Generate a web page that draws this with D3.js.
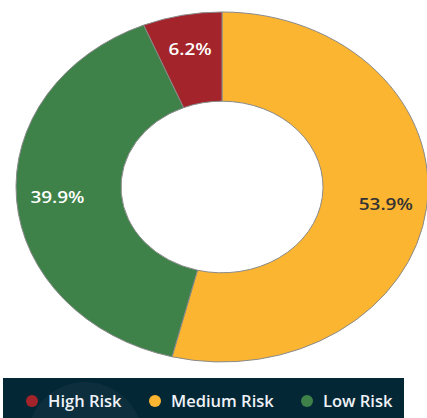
<!DOCTYPE html>
<html>
<head>
<meta charset="utf-8">
<script src="https://cdn.jsdelivr.net/npm/d3@7"></script>
<style>
  body { margin: 0; background: #fff; }
  text { font-family: "Open Sans", "Noto Sans", sans-serif; }
</style>
</head>
<body>
<div id="chart"></div>
<script>
var svgWidth = 427;
var svgHeight = 418;

// data, in drawing order (clockwise from 12 o'clock)
var categories = ["Medium Risk", "Low Risk", "High Risk"];
var shares = [53.9, 39.9, 6.2];
var labels = ["53.9%", "39.9%", "6.2%"];
var legendOrder = ["High Risk", "Medium Risk", "Low Risk"];

var colors = {
  "High Risk": "#a3242a",
  "Medium Risk": "#fcb531",
  "Low Risk": "#3e8249"
};
var labelColors = {
  "High Risk": "#ffffff",
  "Medium Risk": "#333333",
  "Low Risk": "#ffffff"
};

var cx = 222, cy = 187;
var outerR = 206, innerR = 101;
var squash = 175 / 206; // donut is drawn as an ellipse
var labelR = 165;

var svg = d3.select("#chart")
  .append("svg")
  .attr("width", svgWidth)
  .attr("height", svgHeight);

var data = categories.map(function(c, i) {
  return { name: c, value: shares[i], label: labels[i] };
});

var pie = d3.pie()
  .sort(null)
  .value(d => d.value);

var arc = d3.arc()
  .innerRadius(innerR)
  .outerRadius(outerR);

var labelArc = d3.arc()
  .innerRadius(labelR)
  .outerRadius(labelR);

var arcs = pie(data);

// slices
var donut = svg.append("g")
  .attr("transform", `translate(${cx}, ${cy}) scale(1, ${squash})`);

donut.selectAll("path")
  .data(arcs)
  .enter()
  .append("path")
  .attr("d", arc)
  .attr("fill", d => colors[d.data.name])
  .attr("stroke", "#8a8a8a")
  .attr("stroke-width", 1)
  .attr("vector-effect", "non-scaling-stroke");

// percentage labels
svg.append("g")
  .selectAll("text")
  .data(arcs)
  .enter()
  .append("text")
  .attr("transform", function(d) {
    var c = labelArc.centroid(d);
    return `translate(${cx + c[0]}, ${cy + c[1] * squash}) scale(1.15, 1)`;
  })
  .attr("text-anchor", "middle")
  .attr("dy", "0.36em")
  .attr("font-size", 16.5)
  .attr("font-weight", 600)
  .attr("fill", d => labelColors[d.data.name])
  .text(d => d.data.label);

// legend
var legend = svg.append("g");

legend.append("clipPath")
  .attr("id", "legendClip")
  .append("rect")
  .attr("x", 3)
  .attr("y", 378)
  .attr("width", 401)
  .attr("height", 40);

legend.append("rect")
  .attr("x", 3)
  .attr("y", 378)
  .attr("width", 401)
  .attr("height", 40)
  .attr("fill", "#042736");

// faint decorative ring on the left of the legend band
legend.append("circle")
  .attr("clip-path", "url(#legendClip)")
  .attr("cx", 85)
  .attr("cy", 440)
  .attr("r", 58)
  .attr("fill", "#ffffff")
  .attr("opacity", 0.035);

var legendX = [32, 155, 307];

var items = legend.selectAll(".item")
  .data(legendOrder)
  .enter()
  .append("g")
  .attr("class", "item")
  .attr("transform", (d, i) => `translate(${legendX[i]}, 401)`);

items.append("circle")
  .attr("r", 6)
  .attr("fill", d => colors[d]);

items.append("text")
  .attr("x", 16)
  .attr("dy", "0.35em")
  .attr("font-size", 16.5)
  .attr("font-weight", 600)
  .attr("fill", "#eef2f7")
  .text(d => d);
</script>
</body>
</html>
